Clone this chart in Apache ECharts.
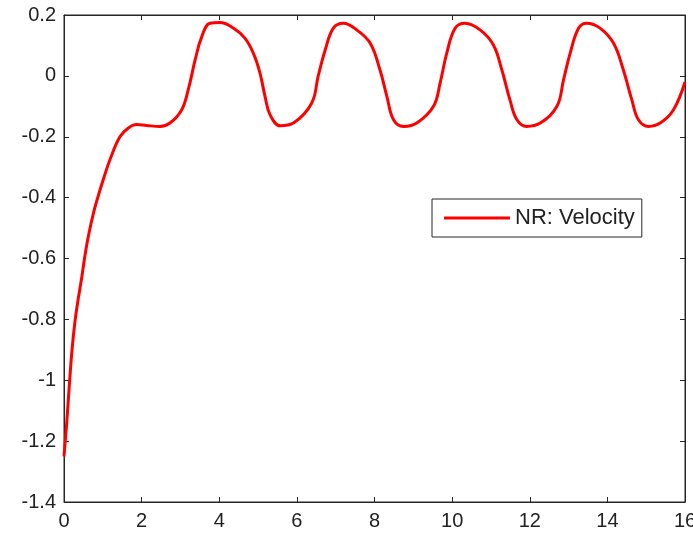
<!DOCTYPE html>
<html>
<head>
<meta charset="utf-8">
<script src="https://cdn.jsdelivr.net/npm/echarts@6/dist/echarts.min.js"></script>
<style>
  html, body { margin: 0; padding: 0; background: #fff; }
  #chart { width: 693px; height: 533px; }
</style>
</head>
<body>
<div id="chart"></div>
<script>
// time samples and velocity
const timeValues = [0, 0.07, 0.13, 0.2, 0.28, 0.37, 0.46, 0.54, 0.63, 0.76, 0.88, 1.01, 1.2, 1.44, 1.65, 1.87,
  2.13, 2.47, 2.73, 3.03, 3.2, 3.38, 3.55, 3.76, 4.02, 4.36, 4.66, 4.88, 5.05, 5.18, 5.31, 5.57, 5.91,
  6.38, 6.55, 6.73, 6.94, 7.2, 7.54, 7.89, 8.14, 8.32, 8.49, 8.75, 9.09, 9.52, 9.69, 9.86, 10.08, 10.33,
  10.72, 11.06, 11.28, 11.49, 11.67, 11.92, 12.27, 12.7, 12.87, 13.04, 13.26, 13.47, 13.81, 14.16, 14.41,
  14.63, 14.8, 15.06, 15.36, 15.7, 16];
const velocityValues = [-1.25, -1.14, -1.03, -0.91, -0.81, -0.73, -0.66, -0.59, -0.525, -0.45, -0.395, -0.341, -0.27, -0.2, -0.172, -0.16,
  -0.163, -0.166, -0.155, -0.112, -0.046, 0.053, 0.129, 0.173, 0.175, 0.157, 0.124, 0.074, 0.009, -0.068, -0.128, -0.164, -0.155,
  -0.09, 0, 0.085, 0.157, 0.173, 0.151, 0.107, 0.02, -0.068, -0.144, -0.166, -0.155, -0.1, -0.024, 0.074, 0.157, 0.173,
  0.151, 0.102, 0.02, -0.079, -0.144, -0.166, -0.155, -0.1, -0.013, 0.074, 0.157, 0.173, 0.157, 0.107, 0.02,
  -0.079, -0.144, -0.166, -0.155, -0.112, -0.02];
const seriesName = 'NR: Velocity';

const xTicks = { min: 0, max: 16, interval: 2 };
const yTicks = { min: -1.4, max: 0.2, interval: 0.2 };

const chart = echarts.init(document.getElementById('chart'));

const frame = '#262626';
const font = 'Liberation Sans, Arial, sans-serif';
const fmt = v => {
  const s = String(+v.toFixed(1));
  return s === '-0' ? '0' : s;
};

const line = { show: true, onZero: false, lineStyle: { color: frame, width: 1 } };
const ticks = { show: true, inside: true, length: 5, lineStyle: { color: frame } };
const labels = { color: '#222', fontSize: 20, fontFamily: font, formatter: fmt };

chart.setOption({
  backgroundColor: '#fff',
  animation: false,
  grid: {
    left: 64, right: 8, top: 15, bottom: 31,
    containLabel: false, outerBoundsMode: 'none',
    show: true, borderColor: frame, borderWidth: 1
  },
  legend: {
    left: 432, top: 199,
    padding: [8, 7, 8, 12],
    borderColor: frame, borderWidth: 1,
    backgroundColor: '#fff',
    itemWidth: 66, itemHeight: 3,
    textStyle: { color: '#222', fontSize: 22, fontFamily: font },
    data: [{ name: seriesName, icon: 'rect' }]
  },
  xAxis: [
    {
      type: 'value', ...xTicks,
      axisLine: line, axisTick: ticks,
      axisLabel: { ...labels, margin: 9 },
      splitLine: { show: false }
    },
    {
      type: 'value', position: 'top', ...xTicks,
      axisLine: line, axisTick: ticks,
      axisLabel: { show: false }, splitLine: { show: false }
    }
  ],
  yAxis: [
    {
      type: 'value', ...yTicks,
      axisLine: line, axisTick: ticks,
      axisLabel: { ...labels, margin: 8 },
      splitLine: { show: false }
    },
    {
      type: 'value', position: 'right', ...yTicks,
      axisLine: line, axisTick: ticks,
      axisLabel: { show: false }, splitLine: { show: false }
    }
  ],
  series: [
    {
      name: seriesName,
      type: 'line',
      data: timeValues.map((t, i) => [t, velocityValues[i]]),
      smooth: 0.4,
      showSymbol: false,
      itemStyle: { color: '#ff0000' },
      lineStyle: { color: '#ff0000', width: 3 }
    }
  ]
});
window.addEventListener('resize', () => chart.resize());
</script>
</body>
</html>
